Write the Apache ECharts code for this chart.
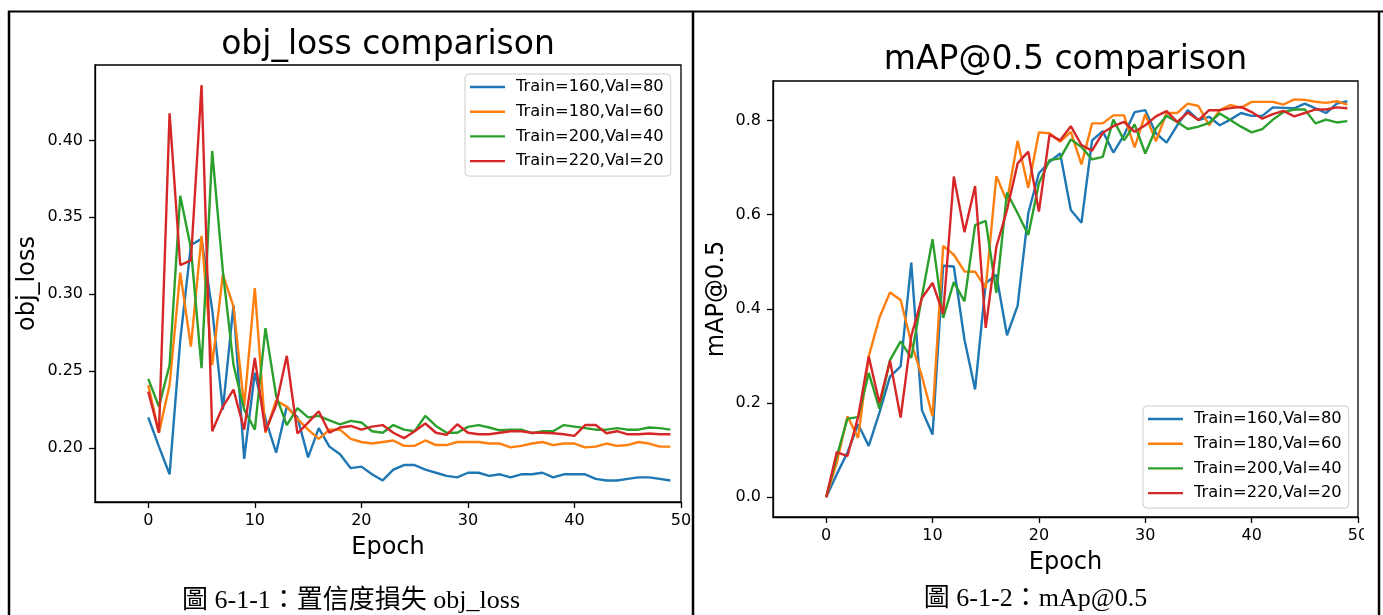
<!DOCTYPE html>
<html>
<head>
<meta charset="utf-8">
<script src="https://cdn.jsdelivr.net/npm/echarts@6/dist/echarts.min.js"></script>
<style>
  html, body { margin: 0; padding: 0; background: #fff; }
  #chart { width: 1383px; height: 615px; }
</style>
</head>
<body>
<div id="chart"></div>
<script>
// epochs 0..49
const epochs = [0, 1, 2, 3, 4, 5, 6, 7, 8, 9, 10, 11, 12, 13, 14, 15, 16, 17, 18, 19,
  20, 21, 22, 23, 24, 25, 26, 27, 28, 29, 30, 31, 32, 33, 34, 35, 36, 37, 38, 39,
  40, 41, 42, 43, 44, 45, 46, 47, 48, 49]

const seriesNames = ['Train=160,Val=80', 'Train=180,Val=60', 'Train=200,Val=40', 'Train=220,Val=20']
const colors = ['#1f77b4', '#ff7f0e', '#2ca02c', '#d62728']

const xTicks = [0, 10, 20, 30, 40, 50]
const lossTicks = [0.20, 0.25, 0.30, 0.35, 0.40]
const mapTicks = [0.0, 0.2, 0.4, 0.6, 0.8]

// obj_loss per epoch
const lossT160 = [0.220, 0.201, 0.183, 0.270, 0.332, 0.336, 0.290, 0.225, 0.293, 0.193,
  0.249, 0.219, 0.197, 0.227, 0.220, 0.194, 0.213, 0.201, 0.196, 0.187,
  0.188, 0.183, 0.179, 0.186, 0.189, 0.189, 0.186, 0.184, 0.182, 0.181,
  0.184, 0.184, 0.182, 0.183, 0.181, 0.183, 0.183, 0.184, 0.181, 0.183,
  0.183, 0.183, 0.180, 0.179, 0.179, 0.180, 0.181, 0.181, 0.180, 0.179]
const lossT180 = [0.241, 0.210, 0.241, 0.314, 0.266, 0.338, 0.254, 0.313, 0.292, 0.227,
  0.304, 0.210, 0.231, 0.227, 0.219, 0.212, 0.206, 0.212, 0.212, 0.206,
  0.204, 0.203, 0.204, 0.205, 0.2015, 0.2015, 0.205, 0.202, 0.202, 0.204,
  0.204, 0.204, 0.203, 0.203, 0.2005, 0.2015, 0.203, 0.204, 0.202, 0.203,
  0.203, 0.2005, 0.201, 0.203, 0.2015, 0.202, 0.204, 0.203, 0.201, 0.201]
const lossT200 = [0.245, 0.227, 0.254, 0.364, 0.330, 0.252, 0.393, 0.315, 0.254, 0.225,
  0.212, 0.278, 0.234, 0.215, 0.226, 0.220, 0.221, 0.218, 0.2155, 0.2177,
  0.2167, 0.211, 0.210, 0.215, 0.212, 0.211, 0.221, 0.2144, 0.210, 0.210,
  0.2138, 0.215, 0.2134, 0.2116, 0.212, 0.212, 0.2097, 0.211, 0.211, 0.215,
  0.214, 0.213, 0.212, 0.212, 0.213, 0.212, 0.212, 0.2134, 0.213, 0.212]
const lossT220 = [0.2367, 0.210, 0.4176, 0.319, 0.322, 0.436, 0.211, 0.227, 0.238, 0.212,
  0.2587, 0.211, 0.228, 0.260, 0.2095, 0.2166, 0.224, 0.210, 0.2134, 0.2144,
  0.212, 0.214, 0.215, 0.210, 0.2065, 0.211, 0.216, 0.210, 0.2086, 0.2155,
  0.210, 0.209, 0.209, 0.210, 0.211, 0.211, 0.210, 0.210, 0.2097, 0.209,
  0.208, 0.215, 0.215, 0.2097, 0.211, 0.209, 0.209, 0.2095, 0.209, 0.209]

// mAP@0.5 per epoch
const mapT160 = [0.0, 0.049, 0.095, 0.155, 0.109, 0.179, 0.256, 0.278, 0.4985, 0.185,
  0.133, 0.4915, 0.490, 0.335, 0.229, 0.455, 0.472, 0.344, 0.407, 0.603,
  0.688, 0.7125, 0.730, 0.610, 0.583, 0.758, 0.7775, 0.732, 0.769, 0.818,
  0.822, 0.773, 0.753, 0.790, 0.822, 0.801, 0.808, 0.790, 0.802, 0.816,
  0.810, 0.810, 0.828, 0.827, 0.826, 0.836, 0.826, 0.816, 0.836, 0.841]
const mapT180 = [0.0, 0.074, 0.172, 0.126, 0.299, 0.381, 0.435, 0.419, 0.328, 0.257,
  0.172, 0.534, 0.515, 0.4795, 0.479, 0.444, 0.682, 0.628, 0.757, 0.657,
  0.775, 0.773, 0.755, 0.776, 0.707, 0.794, 0.794, 0.811, 0.811, 0.743,
  0.8135, 0.756, 0.816, 0.816, 0.836, 0.831, 0.790, 0.822, 0.833, 0.827,
  0.8397, 0.8397, 0.8397, 0.834, 0.845, 0.844, 0.840, 0.8376, 0.841, 0.834]
const mapT200 = [0.0, 0.0875, 0.167, 0.170, 0.264, 0.188, 0.291, 0.331, 0.296, 0.4265,
  0.548, 0.381, 0.457, 0.416, 0.578, 0.587, 0.434, 0.647, 0.603, 0.557,
  0.667, 0.716, 0.7197, 0.760, 0.744, 0.7175, 0.723, 0.802, 0.758, 0.7917,
  0.730, 0.783, 0.810, 0.797, 0.782, 0.787, 0.795, 0.815, 0.801, 0.787,
  0.775, 0.782, 0.802, 0.818, 0.8235, 0.8235, 0.794, 0.802, 0.796, 0.7987]
const mapT220 = [0.0, 0.096, 0.0875, 0.170, 0.299, 0.2006, 0.290, 0.169, 0.342, 0.423,
  0.455, 0.390, 0.681, 0.563, 0.661, 0.3595, 0.532, 0.610, 0.709, 0.734,
  0.6066, 0.770, 0.758, 0.788, 0.748, 0.736, 0.774, 0.788, 0.797, 0.776,
  0.790, 0.809, 0.820, 0.797, 0.817, 0.801, 0.822, 0.822, 0.8265, 0.829,
  0.818, 0.804, 0.8135, 0.8205, 0.809, 0.816, 0.8235, 0.8235, 0.828, 0.826]

const lossSets = [lossT160, lossT180, lossT200, lossT220]
const mapSets = [mapT160, mapT180, mapT200, mapT220]

const FONT = 'DejaVu Sans'
const CAPTION_FONT = '"Liberation Serif", "Noto Sans CJK TC", serif'

function makeLine (name, values, color, idx) {
  return {
    name: name,
    type: 'line',
    xAxisIndex: idx,
    yAxisIndex: idx,
    data: values.map((v, i) => [epochs[i], v]),
    showSymbol: false,
    symbol: 'none',
    lineStyle: { width: 2.4, color: color },
    itemStyle: { color: color },
    emphasis: { disabled: true }
  }
}

function makeXAxis (idx) {
  return {
    type: 'value',
    gridIndex: idx,
    min: -5,
    max: 50,
    name: 'Epoch',
    nameLocation: 'middle',
    nameGap: 34,
    nameTextStyle: { fontSize: 24, fontFamily: FONT, color: '#000' },
    axisLine: { show: true, onZero: false, lineStyle: { color: '#000', width: 1.3 } },
    axisTick: { show: true, length: 6, customValues: xTicks, lineStyle: { color: '#000', width: 1.3 } },
    axisLabel: { customValues: xTicks, margin: 11, fontSize: 16, fontFamily: FONT, color: '#000' },
    splitLine: { show: false }
  }
}

function makeYAxis (idx, name, min, max, ticks, digits, gap) {
  return {
    type: 'value',
    gridIndex: idx,
    min: min,
    max: max,
    name: name,
    nameLocation: 'middle',
    nameGap: gap,
    nameTextStyle: { fontSize: 24, fontFamily: FONT, color: '#000' },
    axisLine: { show: true, onZero: false, lineStyle: { color: '#000', width: 1.3 } },
    axisTick: { show: true, length: 6, customValues: ticks, lineStyle: { color: '#000', width: 1.3 } },
    axisLabel: {
      customValues: ticks, margin: 12, fontSize: 16, fontFamily: FONT, color: '#000',
      formatter: v => v.toFixed(digits)
    },
    splitLine: { show: false }
  }
}

function makeLegend (left, top) {
  return {
    data: seriesNames,
    orient: 'vertical',
    left: left,
    top: top,
    icon: 'rect',
    itemWidth: 35,
    itemHeight: 2.4,
    itemGap: 8.7,
    padding: [5, 7, 7, 5],
    backgroundColor: 'rgba(255,255,255,0.8)',
    borderColor: '#cccccc',
    borderWidth: 1,
    borderRadius: 4,
    textStyle: { fontSize: 16.3, lineHeight: 16, fontFamily: FONT, color: '#000', padding: [0, 0, 0, 6] },
    selectedMode: false
  }
}

const series = []
seriesNames.forEach((n, i) => series.push(makeLine(n, lossSets[i], colors[i], 0)))
seriesNames.forEach((n, i) => series.push(makeLine(n, mapSets[i], colors[i], 1)))

const chart = echarts.init(document.getElementById('chart'))
chart.setOption({
  animation: false,
  backgroundColor: '#fff',
  title: [
    { text: 'obj_loss comparison', left: 388, top: 29, textAlign: 'center', padding: 0,
      textStyle: { fontSize: 33, fontWeight: 'normal', fontFamily: FONT, color: '#000' } },
    { text: 'mAP@0.5 comparison', left: 1065.5, top: 44, textAlign: 'center', padding: 0,
      textStyle: { fontSize: 33, fontWeight: 'normal', fontFamily: FONT, color: '#000' } }
  ],
  grid: [
    { left: 95, top: 65, width: 586, height: 437, show: true, borderColor: '#000', borderWidth: 1.3, backgroundColor: 'transparent' },
    { left: 773, top: 81, width: 585, height: 436, show: true, borderColor: '#000', borderWidth: 1.3, backgroundColor: 'transparent' }
  ],
  xAxis: [makeXAxis(0), makeXAxis(1)],
  yAxis: [
    makeYAxis(0, 'obj_loss', 0.165, 0.449, lossTicks, 2, 55),
    makeYAxis(1, 'mAP@0.5', -0.042, 0.884, mapTicks, 1, 44)
  ],
  legend: [makeLegend(465, 74), makeLegend(1143, 406)],
  series: series,
  graphic: [
    // right picture is clipped at its edge
    { type: 'rect', z: 100, shape: { x: 1364, y: 520, width: 14, height: 30 }, style: { fill: '#fff' } },
    // table borders
    { type: 'line', z: 100, shape: { x1: 8, y1: 11.5, x2: 1383, y2: 11.5 }, style: { stroke: '#000', lineWidth: 2 } },
    { type: 'line', z: 100, shape: { x1: 9, y1: 11, x2: 9, y2: 615 }, style: { stroke: '#000', lineWidth: 2.5 } },
    { type: 'line', z: 100, shape: { x1: 693, y1: 11, x2: 693, y2: 615 }, style: { stroke: '#000', lineWidth: 2.5 } },
    { type: 'line', z: 100, shape: { x1: 1379, y1: 11, x2: 1379, y2: 615 }, style: { stroke: '#000', lineWidth: 2.5 } },
    // captions
    { type: 'text', z: 100, x: 351, y: 601,
      style: { text: '圖 6-1-1：置信度損失 obj_loss', fill: '#000', fontSize: 26, fontFamily: CAPTION_FONT, align: 'center', verticalAlign: 'middle' } },
    { type: 'text', z: 100, x: 1035.5, y: 599,
      style: { text: '圖 6-1-2：mAp@0.5', fill: '#000', fontSize: 26, fontFamily: CAPTION_FONT, align: 'center', verticalAlign: 'middle' } }
  ]
})
</script>
</body>
</html>
